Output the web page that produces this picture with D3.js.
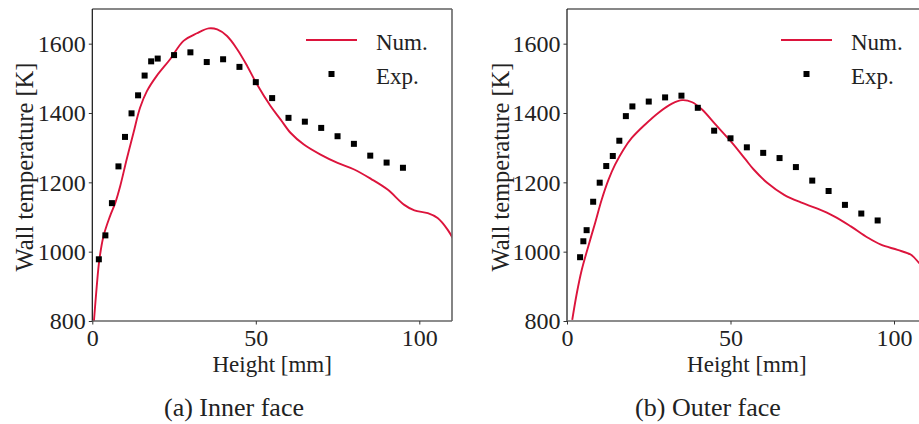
<!DOCTYPE html>
<html><head><meta charset="utf-8">
<script src="https://cdn.jsdelivr.net/npm/d3@7"></script>
<style>
html,body{margin:0;padding:0;background:#fff;}
svg{display:block;}
svg text{font-family:"Liberation Serif","DejaVu Serif",serif !important;fill:#222;}
</style></head>
<body>
<svg id="chart" width="919" height="424"></svg>
<script>
// ---- data ----
const xTicks = [0, 50, 100];
const yTicks = [800, 1000, 1200, 1400, 1600];
const panelTitles = ["(a) Inner face", "(b) Outer face"];
const xLabel = "Height [mm]";
const yLabel = "Wall temperature [K]";
const legendLabels = ["Num.", "Exp."];

const leftExpX = [2,4,6,8,10,12,14,16,18,20,25,30,35,40,45,50,55,60,65,70,75,80,85,90,95];
const leftExpY = [978,1047,1140,1246,1331,1399,1451,1508,1549,1557,1567,1575,1547,1555,1533,1489,1443,1386,1375,1357,1333,1311,1277,1257,1242];
const leftNumX = [0.5,1.35,2.15,3.4,5.4,7.0,8.5,10.5,12.6,14.6,16.7,19.7,23.8,27.9,32.0,35.6,38.2,41.2,44.3,47.4,50.4,54.5,57.6,60.6,64.7,69.8,75.0,80.1,85.2,90.3,95.4,98.5,102.6,105.6,108.7,110.5];
const leftNumY = [800,899,976,1044,1102,1140,1188,1266,1343,1415,1463,1507,1555,1608,1630,1644,1641,1622,1584,1535,1482,1420,1381,1343,1309,1280,1256,1237,1210,1179,1135,1119,1111,1097,1063,1034];

const rightExpX = [4,5,6,8,10,12,14,16,18,20,25,30,35,40,45,50,55,60,65,70,75,80,85,90,95];
const rightExpY = [984,1030,1062,1144,1199,1247,1276,1320,1391,1419,1433,1445,1450,1415,1349,1327,1301,1285,1270,1244,1205,1175,1135,1110,1090];
const rightNumX = [1.6,3.0,4.5,6.5,8.6,10.6,12.7,14.7,17.3,19.8,23.9,28.0,32.1,35.2,38.3,41.3,45.4,50.5,54.6,57.1,61.3,66.4,71.5,76.6,81.7,86.8,91.9,96.0,101.1,105.2,107.9,110];
const rightNumY = [803,880,947,1015,1083,1150,1208,1251,1295,1328,1367,1401,1427,1437,1431,1410,1367,1314,1266,1237,1198,1164,1142,1124,1102,1073,1041,1020,1005,991,965,945];

// ---- layout ----
const FONT = '"Liberation Serif","DejaVu Serif",serif';
const svg = d3.select("#chart");
const red = "#dc143c";
const panels = [
  {left:92.3, right:452, top:9, bottom:321, numX:leftNumX, numY:leftNumY, expX:leftExpX, expY:leftExpY, title:panelTitles[0], titleX:234, ylabX:33, legX:306},
  {left:567, right:926.7, top:9, bottom:321, numX:rightNumX, numY:rightNumY, expX:rightExpX, expY:rightExpY, title:panelTitles[1], titleX:708, ylabX:509, legX:781}
];

panels.forEach((p, i) => {
  const x = d3.scaleLinear().domain([0, 110]).range([p.left, p.right]);
  const y = d3.scaleLinear().domain([800, 1700]).range([p.bottom, p.top]);
  const g = svg.append("g").attr("font-family", FONT);
  const clipId = "clip" + i;
  svg.append("clipPath").attr("id", clipId).append("rect")
    .attr("x", p.left).attr("y", p.top).attr("width", p.right - p.left).attr("height", p.bottom - p.top);

  // curve
  const pts = p.numX.map((v, k) => [v, p.numY[k]]);
  const line = d3.line().x(d => x(d[0])).y(d => y(d[1])).curve(d3.curveCatmullRom.alpha(0.5));
  g.append("path").attr("d", line(pts)).attr("fill", "none").attr("stroke", red)
    .attr("stroke-width", 1.9).attr("clip-path", `url(#${clipId})`);

  // exp markers
  const ep = p.expX.map((v, k) => [v, p.expY[k]]);
  g.selectAll("rect.exp").data(ep).enter().append("rect").attr("class", "exp")
    .attr("x", d => x(d[0]) - 3).attr("y", d => y(d[1]) - 3)
    .attr("width", 6).attr("height", 6).attr("fill", "#000");

  // spines
  g.append("line").attr("x1", p.left).attr("x2", p.left).attr("y1", p.top).attr("y2", p.bottom).attr("stroke", "#111").attr("stroke-width", 1.2);
  g.append("line").attr("x1", p.left).attr("x2", p.right).attr("y1", p.top).attr("y2", p.top).attr("stroke", "#111").attr("stroke-width", 1.2);
  g.append("line").attr("x1", p.right).attr("x2", p.right).attr("y1", p.top).attr("y2", p.bottom).attr("stroke", "#666").attr("stroke-width", 1.6);
  g.append("line").attr("x1", p.left).attr("x2", p.right).attr("y1", p.bottom).attr("y2", p.bottom).attr("stroke", "#666").attr("stroke-width", 1.6);

  // axes
  const ax = g.append("g").attr("transform", `translate(0,${p.bottom})`)
    .call(d3.axisBottom(x).tickValues(xTicks).tickSize(3.5).tickPadding(4).tickFormat(d3.format("d")));
  ax.attr("font-family", FONT);
  ax.select(".domain").remove();
  ax.selectAll("line").attr("stroke", "#333");
  ax.selectAll("text").attr("font-size", 24).attr("fill", "#222");

  const ay = g.append("g").attr("transform", `translate(${p.left},0)`)
    .call(d3.axisLeft(y).tickValues(yTicks).tickSize(3.5).tickPadding(3).tickFormat(d3.format("d")));
  ay.attr("font-family", FONT);
  ay.select(".domain").remove();
  ay.selectAll("line").attr("stroke", "#333");
  ay.selectAll("text").attr("font-size", 24).attr("fill", "#222");

  // labels
  g.append("text").attr("x", (p.left + p.right) / 2).attr("y", 372).attr("text-anchor", "middle")
    .attr("font-size", 23).text(xLabel);
  g.append("text").attr("transform", `translate(${p.ylabX},167) rotate(-90)`).attr("text-anchor", "middle")
    .attr("font-size", 24.5).text(yLabel);
  g.append("text").attr("x", p.titleX).attr("y", 416).attr("text-anchor", "middle")
    .attr("font-size", 26).text(p.title);

  // legend
  g.append("line").attr("x1", p.legX).attr("x2", p.legX + 51).attr("y1", 40).attr("y2", 40)
    .attr("stroke", red).attr("stroke-width", 1.9);
  g.append("rect").attr("x", p.legX + 25.5 - 3).attr("y", 74 - 3).attr("width", 6).attr("height", 6).attr("fill", "#000");
  g.append("text").attr("x", p.legX + 70).attr("y", 50).attr("font-size", 23).text(legendLabels[0]);
  g.append("text").attr("x", p.legX + 70).attr("y", 84).attr("font-size", 23).text(legendLabels[1]);
});
</script>
</body></html>
